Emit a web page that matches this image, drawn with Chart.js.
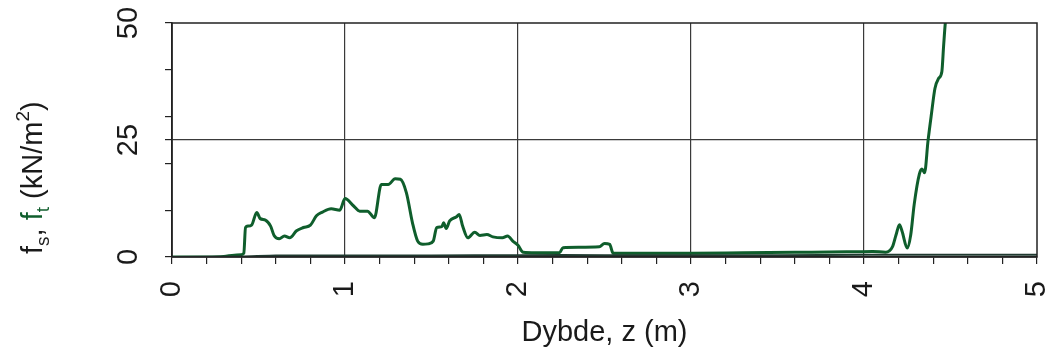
<!DOCTYPE html>
<html><head><meta charset="utf-8">
<script src="https://cdn.jsdelivr.net/npm/chart.js@4.4.1/dist/chart.umd.min.js"></script>
<style>html,body{margin:0;padding:0;background:#fff;overflow:hidden}canvas{display:block}</style>
</head><body>
<canvas id="c" width="1054" height="356"></canvas>
<script>
// ---- data ----
const depthFt = [0.00,0.10,0.20,0.30,0.36,0.40,0.415,0.425,0.44,0.46,0.49,0.51,0.54,0.57,0.59,0.62,0.65,0.68,0.72,0.76,0.80,0.835,0.87,0.92,0.97,1.00,1.05,1.085,1.13,1.17,1.21,1.25,1.29,1.32,1.355,1.39,1.42,1.45,1.48,1.51,1.53,1.56,1.57,1.585,1.605,1.645,1.66,1.68,1.71,1.75,1.78,1.82,1.855,1.91,1.94,1.97,2.00,2.03,2.10,2.24,2.26,2.35,2.47,2.50,2.53,2.55,2.80,3.00,3.30,3.60,3.90,4.05,4.125,4.165,4.185,4.205,4.22,4.25,4.27,4.29,4.32,4.335,4.35,4.37,4.39,4.41,4.43,4.45,4.46,4.47,4.50];
const ft      = [0.0,0.0,0.0,0.1,0.4,0.5,0.8,6.3,6.6,6.8,9.5,8.2,7.9,6.6,4.6,3.9,4.5,4.1,5.6,6.3,6.8,8.8,9.6,10.3,10.0,12.5,10.9,9.8,9.8,8.4,15.5,15.5,16.7,16.6,13.7,7.3,3.4,2.7,2.8,3.4,6.3,6.5,7.3,6.1,7.7,8.6,9.1,6.6,4.1,5.3,4.6,4.8,4.3,4.1,4.5,3.4,2.5,1.0,0.9,0.9,2.0,2.1,2.2,2.9,2.7,0.8,0.8,0.8,0.9,1.0,1.1,1.2,1.0,2.2,4.7,6.9,5.5,1.9,4.7,11.2,17.7,18.8,18.0,24.8,30.6,36.0,38.1,39.6,45.0,50.0,58.0];
const depthFs = [0.00,0.40,0.60,1.00,1.50,2.00,2.50,3.00,3.50,4.00,4.20,4.50,5.00];
const fs      = [0.0,0.1,0.3,0.3,0.3,0.4,0.4,0.4,0.4,0.5,0.5,0.5,0.5];
const xTickLabels = ['0','1','2','3','4','5'];
const yTickValues = [0,25,50];
const yTickLabels = ['0','25','50'];
const yMinorTicks = [10,20,30,40];

const FONT = "'Liberation Sans', Arial, Helvetica, sans-serif";
const GREEN = '#0f5e2c';
const INK = '#1a1a1a';

const isInt = v => Math.abs(v - Math.round(v)) < 1e-6;

const framePlugin = {
  id: 'frame',
  afterDraw(chart) {
    const {ctx, chartArea: a, scales} = chart;
    ctx.save();
    // plot frame
    ctx.strokeStyle = '#222';
    ctx.lineWidth = 1.5;
    ctx.strokeRect(a.left, a.top, a.right - a.left, a.bottom - a.top);
    // rotated y tick labels
    ctx.fillStyle = INK;
    ctx.font = '29px ' + FONT;
    ctx.textAlign = 'center';
    ctx.textBaseline = 'alphabetic';
    yTickValues.forEach((v, i) => {
      const y = scales.y.getPixelForValue(v);
      ctx.save();
      ctx.translate(137, y);
      ctx.rotate(-Math.PI / 2);
      ctx.fillText(yTickLabels[i], 0, 0);
      ctx.restore();
    });
    // y axis title  f_s, f_t (kN/m^2)
    ctx.save();
    ctx.translate(42, 254);
    ctx.rotate(-Math.PI / 2);
    ctx.textAlign = 'left';
    let x = 0;
    const big = '29px ' + FONT, small = '19px ' + FONT;
    const put = (t, font, color, dy) => {
      ctx.font = font; ctx.fillStyle = color;
      ctx.fillText(t, x, dy);
      x += ctx.measureText(t).width;
    };
    put('f', big, INK, 0);
    put('s', small, INK, 7);
    put(', ', big, INK, 0);
    put('f', big, GREEN, 0);
    put('t', small, GREEN, 7);
    put(' (kN/m', big, INK, 0);
    put('2', small, INK, -13);
    put(')', big, INK, 0);
    ctx.restore();
    ctx.restore();
  }
};

new Chart(document.getElementById('c'), {
  type: 'line',
  data: {
    datasets: [
      {
        label: 'fs',
        data: depthFs.map((z, i) => ({x: z, y: fs[i]})),
        borderColor: '#203a30',
        borderWidth: 2,
        pointRadius: 0,
        tension: 0.2
      },
      {
        label: 'ft',
        data: depthFt.map((z, i) => ({x: z, y: ft[i]})),
        borderColor: GREEN,
        borderWidth: 3,
        pointRadius: 0,
        tension: 0.25,
        cubicInterpolationMode: 'monotone'
      }
    ]
  },
  options: {
    responsive: false,
    devicePixelRatio: 1,
    animation: false,
    layout: {padding: {left: 0, right: 17, top: 23, bottom: 0}},
    plugins: {legend: {display: false}, tooltip: {enabled: false}},
    scales: {
      x: {
        type: 'linear',
        min: 0, max: 5,
        afterFit: s => { s.height = 99; s.paddingRight = 0; s.paddingLeft = 0; },
        ticks: {
          stepSize: 0.2,
          autoSkip: false,
          minRotation: 90, maxRotation: 90,
          padding: 17,
          color: INK,
          font: {family: FONT, size: 29},
          callback: v => isInt(v) ? xTickLabels[Math.round(v)] : ''
        },
        grid: {
          color: c => (c.tick && isInt(c.tick.value) && c.tick.value > 0 && c.tick.value < 5) ? '#3a3a3a' : 'rgba(0,0,0,0)',
          lineWidth: 1.2,
          tickColor: '#222',
          tickLength: 7,
          drawTicks: true
        },
        border: {display: true, color: '#222', width: 1.5},
        title: {
          display: true,
          text: 'Dybde, z (m)',
          color: INK,
          font: {family: FONT, size: 29},
          padding: {top: 0, bottom: 6}
        }
      },
      y: {
        type: 'linear',
        min: 0, max: 50,
        afterFit: s => { s.width = 172; s.paddingTop = 0; s.paddingBottom = 0; },
        afterBuildTicks: s => {
          s.ticks = [0, ...yMinorTicks, 25, 50].sort((a, b) => a - b).map(v => ({value: v}));
        },
        ticks: {display: false},
        grid: {
          color: c => (c.tick && c.tick.value === 25) ? '#3a3a3a' : 'rgba(0,0,0,0)',
          lineWidth: 1.2,
          tickColor: '#222',
          tickLength: 7,
          drawTicks: true
        },
        border: {display: true, color: '#222', width: 1.5}
      }
    }
  },
  plugins: [framePlugin]
});
</script>
</body></html>
